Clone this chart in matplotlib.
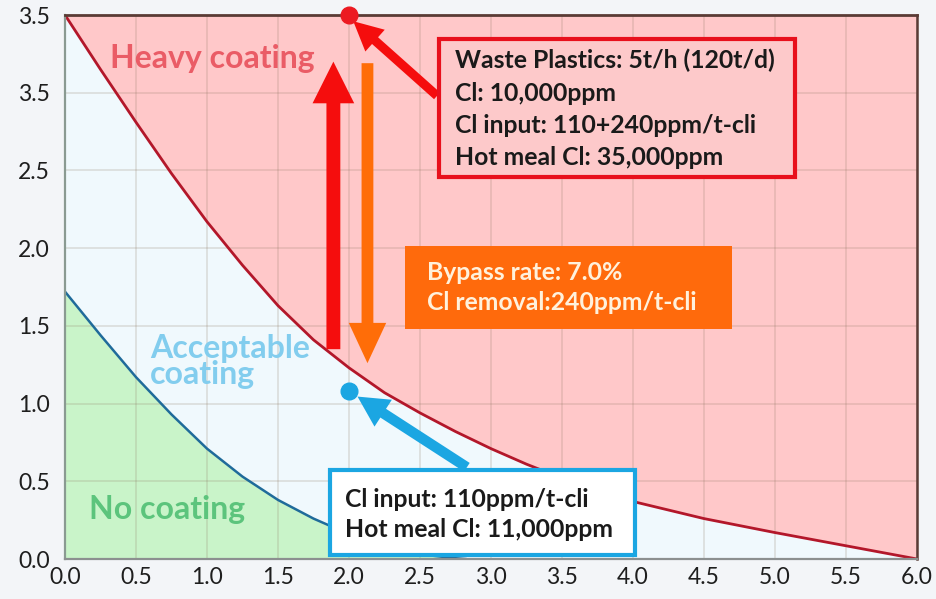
import matplotlib
matplotlib.use("Agg")
import matplotlib.pyplot as plt
from matplotlib.patches import Rectangle, FancyArrowPatch

FONT = ["Lato", "DejaVu Sans"]

# --- data -------------------------------------------------------------
x_ticks = [0.0, 0.5, 1.0, 1.5, 2.0, 2.5, 3.0, 3.5, 4.0, 4.5, 5.0, 5.5, 6.0]
x_tick_labels = ["0.0", "0.5", "1.0", "1.5", "2.0", "2.5", "3.0", "3.5",
                 "4.0", "4.5", "5.0", "5.5", "6.0"]
y_ticks = [0.0, 0.5, 1.0, 1.5, 2.0, 2.5, 3.0, 3.5]
y_tick_labels = ["0.0", "0.5", "1.0", "1.5", "2.0", "2.5", "3.5", "3.5"]

# upper limit curve (heavy coating above)
heavy_x = [0.0, 0.25, 0.5, 0.75, 1.0, 1.25, 1.5, 1.75, 2.0, 2.25, 2.5,
           2.75, 3.0, 3.25, 3.5, 4.0, 4.5, 5.0, 5.5, 6.0]
heavy_y = [3.5, 3.15, 2.81, 2.48, 2.17, 1.89, 1.63, 1.41, 1.23, 1.07, 0.94,
           0.82, 0.71, 0.61, 0.52, 0.37, 0.26, 0.17, 0.085, 0.0]

# lower limit curve (no coating below)
none_x = [0.0, 0.25, 0.5, 0.75, 1.0, 1.25, 1.5, 1.75, 2.0, 2.25, 2.5, 2.75, 2.82]
none_y = [1.72, 1.44, 1.17, 0.93, 0.71, 0.53, 0.38, 0.26, 0.16, 0.08, 0.03, 0.005, 0.0]

# operating points
point_waste = (2.0, 3.5)
point_base = (2.0, 1.08)

box_waste_lines = ["Waste Plastics: 5t/h (120t/d)", "Cl: 10,000ppm",
                   "Cl input: 110+240ppm/t-cli", "Hot meal Cl: 35,000ppm"]
box_bypass_lines = ["Bypass rate: 7.0%", "Cl removal:240ppm/t-cli"]
box_base_lines = ["Cl input: 110ppm/t-cli", "Hot meal Cl: 11,000ppm"]

# --- figure -----------------------------------------------------------
W, H = 936, 599
fig = plt.figure(figsize=(W / 100, H / 100), dpi=100, facecolor="#f3f5f8")
ax = fig.add_axes([65 / W, 1 - 559 / H, (917 - 65) / W, (559 - 15) / H])
ax.set_xlim(0, 6)
ax.set_ylim(0, 3.5)
ax.set_facecolor("#f0f9fd")

ax.fill_between(heavy_x, heavy_y, 3.5, color="#ffc8c9", lw=0, zorder=1)
ax.fill_between(none_x, 0, none_y, color="#c9f4c9", lw=0, zorder=1)

ax.set_axisbelow("line")
ax.grid(True, color="#8c7560", alpha=0.2, lw=1.3)
ax.plot(heavy_x, heavy_y, color="#b3172a", lw=2.0, zorder=3)
ax.plot(none_x, none_y, color="#1f6b9a", lw=1.8, zorder=3)

ax.set_xticks(x_ticks)
ax.set_xticklabels(x_tick_labels, fontfamily=FONT, fontsize=16.5, color="#1e1e1e")
ax.set_yticks(y_ticks)
ax.set_yticklabels(y_tick_labels, fontfamily=FONT, fontsize=16.5, color="#1e1e1e")
ax.tick_params(axis="both", length=0)
ax.tick_params(axis="y", pad=11)
ax.tick_params(axis="x", pad=6)

for side, col, lw in [("top", "#5a3b35", 2.0), ("right", "#5a3b35", 1.8),
                      ("left", "#8a9a92", 1.6), ("bottom", "#8c9090", 1.6)]:
    ax.spines[side].set_color(col)
    ax.spines[side].set_linewidth(lw)
    ax.spines[side].set_zorder(4)

# region labels
ax.text(1.04, 3.22, "Heavy coating", fontfamily=FONT, fontsize=23,
        fontweight="bold", color="#ea5c66", ha="center", va="center", zorder=3)
ax.text(0.60, 1.27, "Acceptable\ncoating", fontfamily=FONT, fontsize=23,
        fontweight="bold", color="#82cdee", ha="left", va="center",
        linespacing=0.85, zorder=3)
ax.text(0.72, 0.32, "No coating", fontfamily=FONT, fontsize=23,
        fontweight="bold", color="#5cc47c", ha="center", va="center", zorder=3)


def arrow(p0, p1, color, tail, head_w, head_l, z=5):
    a = FancyArrowPatch(p0, p1, arrowstyle=f"simple,head_length={head_l},"
                        f"head_width={head_w},tail_width={tail}",
                        mutation_scale=1, color=color, lw=0, shrinkA=0,
                        shrinkB=0, zorder=z, clip_on=False)
    ax.add_patch(a)


# increase / decrease arrows
arrow((1.89, 1.35), (1.89, 3.20), "#f50d0d", 10, 30, 30)
arrow((2.13, 3.19), (2.13, 1.26), "#ff6d08", 8.5, 27, 29)
# pointer arrows to the operating points
arrow((2.62, 2.98), (2.03, 3.46), "#f50d0d", 6.5, 21, 21)
arrow((2.83, 0.59), (2.06, 1.045), "#1ba6e2", 7.5, 23, 22)

ax.plot(*point_waste, "o", ms=12, color="#ec1a22", zorder=7, clip_on=False)
ax.plot(*point_base, "o", ms=12, color="#1ba6e2", zorder=7, clip_on=False)


def box(x0, x1, y0, y1, face, edge, lw):
    r = Rectangle((x0, y0), x1 - x0, y1 - y0, facecolor=face,
                  edgecolor=edge, lw=lw, zorder=6, clip_on=False)
    ax.add_patch(r)


TXT = dict(fontfamily=FONT, fontsize=17.8, fontweight="bold", ha="left",
           va="center", zorder=8)

box(2.635, 5.14, 2.46, 3.345, "#fdc9ca", "#e8101c", 3.0)
for txt, yy in zip(box_waste_lines, [3.208, 2.994, 2.789, 2.585]):
    ax.text(2.746, yy, txt, color="#1a1a1a", **TXT)

box(2.394, 4.697, 1.477, 2.013, "#ff6a0c", "none", 0)
for txt, yy in zip(box_bypass_lines, [1.845, 1.652]):
    ax.text(2.549, yy, txt, color="#fff1dc", **TXT)

box(1.866, 4.014, 0.026, 0.573, "white", "#1ba6e2", 3.0)
for txt, yy in zip(box_base_lines, [0.381, 0.187]):
    ax.text(1.972, yy, txt, color="#1a1a1a", **TXT)

fig.savefig("out.png", dpi=100, facecolor=fig.get_facecolor())
